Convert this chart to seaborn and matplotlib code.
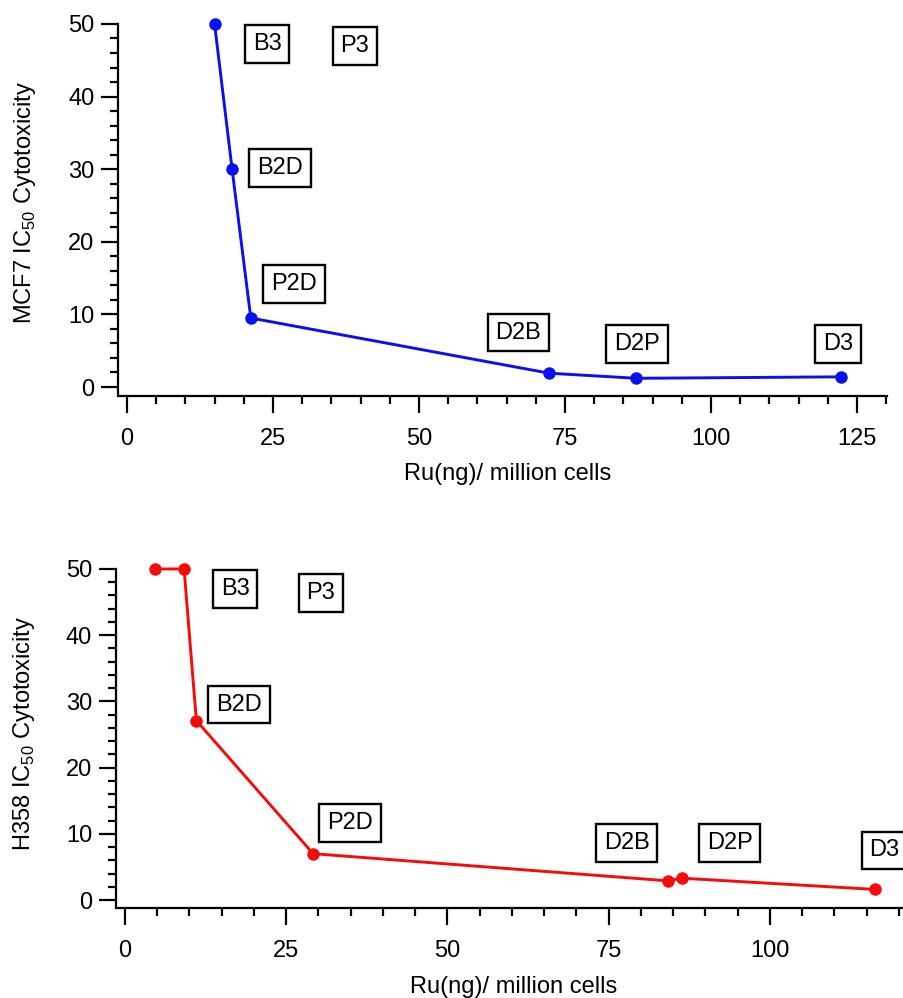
import numpy as np
import pandas as pd
import matplotlib
matplotlib.use("Agg")
import matplotlib.pyplot as plt
from matplotlib.ticker import MultipleLocator
import seaborn as sns

# Datos
mcf7_ru = [15, 18, 21.2, 72.3, 87.2, 122.3]
mcf7_ic50 = [50, 30, 9.5, 1.9, 1.2, 1.4]
mcf7_labels = ["B3", "P3", "B2D", "P2D", "D2B", "D2P", "D3"]
mcf7_label_x = [24, 39, 26.2, 28.6, 67, 87.3, 121.7]
mcf7_label_y = [47.2, 47, 30.2, 14.2, 7.5, 5.9, 5.9]

h358_ru = [4.65, 9.2, 11.1, 29.2, 84.2, 86.4, 116.3]
h358_ic50 = [50, 50, 27.1, 7.0, 2.9, 3.3, 1.6]
h358_labels = ["B3", "P3", "B2D", "P2D", "D2B", "D2P", "D3"]
h358_label_x = [17.1, 30.4, 17.7, 34.9, 77.8, 93.8, 117.8]
h358_label_y = [47, 46.4, 29.5, 11.6, 8.6, 8.6, 7.5]

xlabel = "Ru(ng)/ million cells"

sns.set_style("ticks")
plt.rcParams['font.family'] = ['Liberation Sans', 'DejaVu Sans']
plt.rcParams['axes.linewidth'] = 1.6
plt.rcParams['mathtext.fontset'] = 'custom'
plt.rcParams['mathtext.rm'] = 'Liberation Sans'
for k in ['text.color', 'axes.labelcolor', 'xtick.color', 'ytick.color', 'axes.edgecolor']:
    plt.rcParams[k] = 'black'

fig = plt.figure(figsize=(9.04, 9.98), dpi=100)
ax1 = fig.add_axes([0.1305, 0.6032, 0.8505, 0.3728])
ax2 = fig.add_axes([0.128, 0.0902, 0.872, 0.3397])


def estilo(ax, xlim, ylim, ylabel, xlab_pos, ylab_pos):
    ax.set_xlim(*xlim)
    ax.set_ylim(*ylim)
    ax.xaxis.set_major_locator(MultipleLocator(25))
    ax.xaxis.set_minor_locator(MultipleLocator(5))
    ax.yaxis.set_major_locator(MultipleLocator(10))
    ax.yaxis.set_minor_locator(MultipleLocator(2))
    ax.tick_params(which='major', direction='out', length=12, width=1.6,
                   labelsize=17, pad=5)
    ax.tick_params(which='minor', direction='out', length=6, width=1.6)
    ax.tick_params(axis='x', which='major', pad=11)
    for s in ['top', 'right']:
        ax.spines[s].set_visible(False)
    ax.set_xlabel(xlabel, fontsize=17)
    ax.set_ylabel(ylabel, fontsize=17)
    ax.xaxis.set_label_coords(*xlab_pos)
    ax.yaxis.set_label_coords(*ylab_pos)


def cajas(ax, xs, ys, labels):
    for x, y, t in zip(xs, ys, labels):
        ax.text(x, y, t, fontsize=17, ha='center', va='center', clip_on=False,
                bbox=dict(boxstyle='square,pad=0.33', fc='white', ec='black', lw=1.7))


sns.lineplot(x=mcf7_ru, y=mcf7_ic50, ax=ax1, color='#0a10f0', lw=2.1,
             marker='o', markersize=9, markeredgewidth=0, sort=False, clip_on=False)
estilo(ax1, (-1.54, 130.1), (-1.24, 50), r"MCF7 IC$_{50}$ Cytotoxicity",
       (0.507, -0.18), (-0.1035, 0.52))
cajas(ax1, mcf7_label_x, mcf7_label_y, mcf7_labels)

sns.lineplot(x=h358_ru, y=h358_ic50, ax=ax2, color='#f80a0a', lw=2.1,
             marker='o', markersize=9, markeredgewidth=0, sort=False, clip_on=False)
estilo(ax2, (-1.4, 120.8), (-1.2, 50), r"H358 IC$_{50}$ Cytotoxicity",
       (0.505, -0.2), (-0.1, 0.516))
cajas(ax2, h358_label_x, h358_label_y, h358_labels)

fig.savefig("out.png", dpi=100)
